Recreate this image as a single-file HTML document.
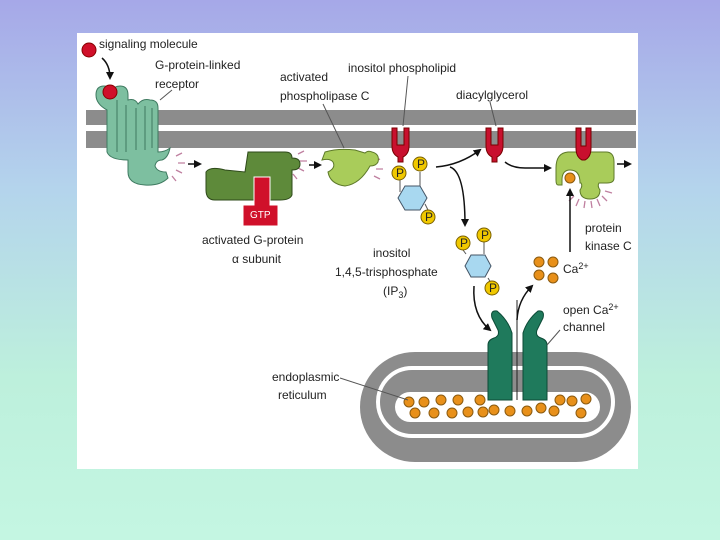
<!DOCTYPE html>
<html><head><meta charset="utf-8"><style>
html,body{margin:0;padding:0}
body{width:720px;height:540px;overflow:hidden;background:linear-gradient(#a6a8e8 0%,#b4d4ec 35%,#bdf0dc 70%,#c4f6e2 100%)}
svg{position:absolute;left:0;top:0}
text{font-family:"Liberation Sans",sans-serif;font-size:12px;fill:#222}
</style></head><body>
<svg width="720" height="540" viewBox="0 0 720 540">
<defs>
<marker id="ah" markerWidth="8" markerHeight="8" refX="6" refY="4" orient="auto" markerUnits="userSpaceOnUse"><path d="M0,0 L8,4 L0,8 z" fill="#111"/></marker>
</defs>
<rect x="77" y="33" width="561" height="436" fill="#fff"/>
<!-- membrane -->
<rect x="86" y="110" width="550" height="15" fill="#8c8c8c"/>
<rect x="86" y="131" width="550" height="17" fill="#8c8c8c"/>
<!-- ER -->
<rect x="360" y="352" width="271" height="110" rx="55" fill="#8c8c8c"/>
<rect x="378" y="368" width="235" height="68" rx="34" fill="none" stroke="#fff" stroke-width="4"/>
<rect x="395" y="392" width="205" height="30" rx="15" fill="#fff"/>
<!-- Ca in ER -->
<g fill="#e8901a" stroke="#8a5a10" stroke-width="1">
<circle cx="409" cy="402" r="5"/><circle cx="424" cy="402" r="5"/><circle cx="441" cy="400" r="5"/><circle cx="458" cy="400" r="5"/><circle cx="480" cy="400" r="5"/>
<circle cx="415" cy="413" r="5"/><circle cx="434" cy="413" r="5"/><circle cx="452" cy="413" r="5"/><circle cx="468" cy="412" r="5"/><circle cx="483" cy="412" r="5"/><circle cx="494" cy="410" r="5"/><circle cx="510" cy="411" r="5"/><circle cx="527" cy="411" r="5"/><circle cx="541" cy="408" r="5"/><circle cx="554" cy="411" r="5"/><circle cx="560" cy="400" r="5"/><circle cx="572" cy="401" r="5"/><circle cx="586" cy="399" r="5"/><circle cx="581" cy="413" r="5"/>
</g>
<!-- channel -->
<path d="M488,400 L488,345 Q488,340 494,338 Q500,336 498,330 L492,318 Q490,310 497,311 Q508,320 512,333 L512,400 Z" fill="#1f7a5c" stroke="#0c4a36"/>
<path d="M547,400 L547,345 Q547,340 541,338 Q535,336 537,330 L543,318 Q545,310 538,311 Q527,320 523,333 L523,400 Z" fill="#1f7a5c" stroke="#0c4a36"/>
<line x1="517" y1="300" x2="517" y2="400" stroke="#222" stroke-width="1"/>
<!-- receptor -->
<path d="M107,110 Q96,104 96,95 Q96,86 104,86 Q110,86 110,92 Q114,86 120,86 Q128,86 128,95 L128,100 Q135,98 138,104 Q143,98 150,100 Q158,100 158,108 L158,152 Q165,152 170,148 Q168,158 162,160 Q156,160 155,166 Q157,172 166,172 L168,178 Q160,186 145,185 Q128,184 128,172 L128,160 Q110,160 107,152 Z" fill="#7dbfa0" stroke="#3e7a60"/>
<g stroke="#3e7a60" fill="none" stroke-width="1"><path d="M117,100 L117,152 M126,105 L126,152 M136,108 L136,150 M145,106 L145,150 M152,108 L152,148"/></g>
<circle cx="110" cy="92" r="7" fill="#d0102a" stroke="#800"/>
<circle cx="89" cy="50" r="7" fill="#d0102a" stroke="#800"/>
<path d="M102,58 Q110,65 110,78" fill="none" stroke="#111" stroke-width="1.5" marker-end="url(#ah)"/>
<line x1="160" y1="100" x2="172" y2="90" stroke="#555"/>
<!-- sparks -->
<g stroke="#c080a0" stroke-width="1.3">
<path d="M176,156 l6,-3 M178,163 l7,0 M176,170 l6,3 M172,176 l4,5"/>
<path d="M298,154 l6,-3 M300,161 l7,0 M298,168 l6,3 M293,174 l4,5"/>
<path d="M374,162 l6,-3 M376,169 l7,0 M374,176 l6,3"/>
<path d="M574,196 l-5,5 M579,199 l-3,7 M585,201 l-1,7 M591,201 l1,7 M597,199 l3,7 M602,196 l5,5 M605,191 l7,2"/>
</g>
<line x1="188" y1="164" x2="200" y2="164" stroke="#111" stroke-width="1.5" marker-end="url(#ah)"/>
<line x1="309" y1="165" x2="320" y2="165" stroke="#111" stroke-width="1.5" marker-end="url(#ah)"/>
<!-- G protein -->
<path d="M206,172 Q210,166 225,170 L245,172 L248,152 L285,152 Q292,152 292,158 Q300,158 300,164 Q300,170 292,170 L292,195 Q290,200 280,200 L215,200 Q206,200 206,190 Z" fill="#5e8a3a" stroke="#2e4a1a"/>
<path d="M254,177 L270,177 L270,205 L278,205 L278,226 L243,226 L243,205 L254,205 Z" fill="#d0102a" stroke="#fff" stroke-width="1"/>
<text x="250" y="218" style="fill:#fff;font-size:10px">GTP</text>
<!-- phospholipase C -->
<path d="M325,152 Q338,148 355,150 L365,153 Q368,150 372,152 Q380,154 378,162 Q376,166 370,166 Q360,184 345,186 Q330,184 328,172 Q336,168 333,162 Q330,158 322,160 Z" fill="#a9cc5a" stroke="#5e7a2a"/>
<line x1="344" y1="148" x2="323" y2="104" stroke="#555"/>
<!-- inositol phospholipid -->
<path d="M392,128 L392,146 Q392,154 398,157 L398,162 L403,162 L403,157 Q409,154 409,146 L409,128 L404,128 L404,145 L397,145 L397,128 Z" fill="#c8102e" stroke="#700"/>
<line x1="403" y1="126" x2="408" y2="76" stroke="#555"/>
<line x1="400" y1="178" x2="400" y2="192" stroke="#555"/><line x1="420" y1="172" x2="420" y2="186" stroke="#555"/><line x1="425" y1="204" x2="428" y2="210" stroke="#555"/>
<polygon points="398,198 405,186 420,186 427,198 420,210 405,210" fill="#a8d8f0" stroke="#456"/>
<g fill="#f0c800" stroke="#7a6000"><circle cx="399" cy="173" r="7"/><circle cx="420" cy="164" r="7"/><circle cx="428" cy="217" r="7"/></g>
<g style="font-size:9px"><text x="396" y="177">P</text><text x="417" y="168">P</text><text x="425" y="221">P</text></g>
<path d="M436,167 Q460,165 480,150" fill="none" stroke="#111" stroke-width="1.5" marker-end="url(#ah)"/>
<path d="M450,167 Q465,172 465,225" fill="none" stroke="#111" stroke-width="1.5" marker-end="url(#ah)"/>
<!-- DAG -->
<path d="M486,128 L486,146 Q486,154 492,157 L492,162 L497,162 L497,157 Q503,154 503,146 L503,128 L498,128 L498,145 L491,145 L491,128 Z" fill="#c8102e" stroke="#700"/>
<line x1="496" y1="126" x2="490" y2="102" stroke="#555"/>
<path d="M505,162 Q512,168 525,168 L550,168" fill="none" stroke="#111" stroke-width="1.5" marker-end="url(#ah)"/>
<!-- PKC -->
<path d="M556,168 Q556,153 568,152 L606,152 Q614,152 614,162 L614,178 Q614,183 607,183 L599,183 Q597,186 600,190 Q600,199 590,199 Q580,199 580,190 Q583,186 581,183 L580,183 Q580,170 570,170 Q562,170 562,180 L562,185 L558,185 Q556,185 556,180 Z" fill="#a9cc5a" stroke="#5e7a2a"/>
<path d="M576,128 L576,148 Q576,157 582,160 L585,160 Q591,157 591,148 L591,128 L586,128 L586,146 L581,146 L581,128 Z" fill="#c8102e" stroke="#700"/>
<circle cx="570" cy="178" r="5" fill="#e8901a" stroke="#8a5a10"/>
<line x1="617" y1="164" x2="630" y2="164" stroke="#111" stroke-width="1.5" marker-end="url(#ah)"/>
<path d="M570,252 L570,190" fill="none" stroke="#111" stroke-width="1.5" marker-end="url(#ah)"/>
<!-- IP3 -->
<line x1="463" y1="250" x2="466" y2="254" stroke="#555"/><line x1="484" y1="242" x2="484" y2="254" stroke="#555"/><line x1="488" y1="278" x2="491" y2="283" stroke="#555"/>
<polygon points="465,266 471,255 485,255 491,266 485,277 471,277" fill="#a8d8f0" stroke="#456"/>
<g fill="#f0c800" stroke="#7a6000"><circle cx="463" cy="243" r="7"/><circle cx="484" cy="235" r="7"/><circle cx="492" cy="288" r="7"/></g>
<g style="font-size:9px"><text x="460" y="247">P</text><text x="481" y="239">P</text><text x="489" y="292">P</text></g>
<path d="M474,286 Q472,315 490,330" fill="none" stroke="#111" stroke-width="1.5" marker-end="url(#ah)"/>
<path d="M517,320 Q518,300 532,286" fill="none" stroke="#111" stroke-width="1.5" marker-end="url(#ah)"/>
<!-- Ca -->
<g fill="#e8901a" stroke="#8a5a10"><circle cx="539" cy="262" r="5"/><circle cx="553" cy="262" r="5"/><circle cx="539" cy="275" r="5"/><circle cx="553" cy="278" r="5"/></g>
<path d="M547,345 L560,330" stroke="#555" fill="none"/>
<path d="M340,378 L408,400" stroke="#555" fill="none"/>
<!-- text -->
<text x="99" y="48">signaling molecule</text>
<text x="155" y="69">G-protein-linked</text>
<text x="155" y="88">receptor</text>
<text x="280" y="81">activated</text>
<text x="280" y="100">phospholipase C</text>
<text x="348" y="72">inositol phospholipid</text>
<text x="456" y="99">diacylglycerol</text>
<text x="202" y="244">activated G-protein</text>
<text x="232" y="263">α subunit</text>
<text x="373" y="257">inositol</text>
<text x="335" y="276">1,4,5-trisphosphate</text>
<text x="383" y="295">(IP<tspan dy="3" style="font-size:9px">3</tspan><tspan dy="-3">)</tspan></text>
<text x="585" y="232">protein</text>
<text x="585" y="250">kinase C</text>
<text x="563" y="273">Ca<tspan dy="-4" style="font-size:9px">2+</tspan></text>
<text x="563" y="314">open Ca<tspan dy="-4" style="font-size:9px">2+</tspan></text>
<text x="563" y="331">channel</text>
<text x="272" y="381">endoplasmic</text>
<text x="278" y="399">reticulum</text>
</svg>
</body></html>
